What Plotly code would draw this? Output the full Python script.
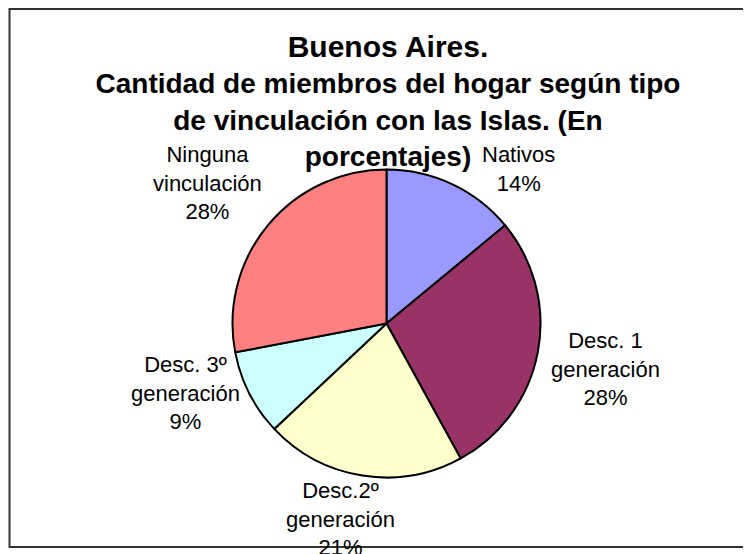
import plotly.graph_objects as go

categories = ["Nativos", "Desc. 1<br>generación", "Desc.2º<br>generación",
              "Desc. 3º<br>generación", "Ninguna<br>vinculación"]
values = [14, 28, 21, 9, 28]
colors = ["#9999FF", "#993366", "#FFFFCC", "#CCFFFF", "#FF8080"]

W, H = 751, 554
OFF = 8  # page body margin offset of the figure
cx, cy, r = 386.5 - OFF, 323.5 - OFF, 154

# label centre positions (page px) — layout styling, not data
label_px = [(519, 169), (605, 369), (340, 519), (185, 393), (207, 183)]

fig = go.Figure()
fig.add_trace(go.Pie(
    labels=categories,
    values=values,
    sort=False,
    direction="clockwise",
    rotation=0,
    marker=dict(colors=colors, line=dict(color="black", width=2)),
    textinfo="none",
    showlegend=False,
    hoverinfo="skip",
    automargin=False,
    domain=dict(x=[(cx - r) / W, (cx + r) / W],
                y=[(H - cy - r) / H, (H - cy + r) / H]),
))

total = sum(values)
annotations = []
for lab, v, (px, py) in zip(categories, values, label_px):
    annotations.append(dict(
        text=f"{lab}<br>{round(100 * v / total)}%",
        x=(px - OFF) / W, y=1 - (py - OFF) / H,
        xref="paper", yref="paper", xanchor="center", yanchor="middle",
        showarrow=False, align="center",
        font=dict(family="Liberation Sans, Arial", size=22, color="black"),
    ))

fig.update_layout(
    width=W, height=H,
    margin=dict(l=0, r=0, t=0, b=0),
    paper_bgcolor="white",
    plot_bgcolor="white",
    title=dict(
        text="<span style='font-size:30px'>Buenos Aires.</span><br>"
             "Cantidad de miembros del hogar según tipo<br>"
             "de vinculación con las Islas. (En<br>porcentajes)",
        x=(388 - OFF) / W, xanchor="center",
        y=1 - 49 / H, yanchor="top", yref="container",
        font=dict(family="Liberation Sans, Arial", size=28, color="black", weight="bold"),
    ),
    annotations=annotations,
    shapes=[dict(type="rect", xref="paper", yref="paper",
                 x0=(9.5 - OFF) / W, x1=1.05, y0=1 - (547 - OFF) / H, y1=1 - 1 / H,
                 line=dict(color="#333333", width=2), fillcolor="rgba(0,0,0,0)")],
)

fig.write_html("out.html")
